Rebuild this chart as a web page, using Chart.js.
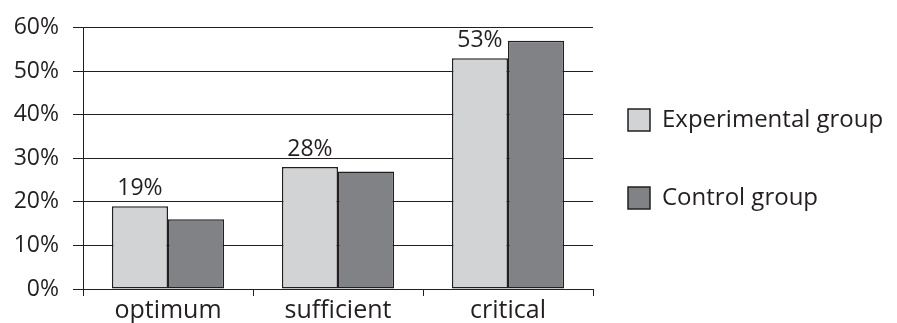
<!DOCTYPE html>
<html>
<head>
<meta charset="utf-8">
<script src="https://cdn.jsdelivr.net/npm/chart.js@4/dist/chart.umd.min.js"></script>
<style>
  html, body { margin: 0; padding: 0; background: #ffffff; }
  #wrap { width: 897px; height: 323px; position: relative; }
</style>
</head>
<body>
<div id="wrap"><canvas id="chart"></canvas></div>
<script>
// Share of pupils per level, in percent
const categories = ['optimum', 'sufficient', 'critical'];
const experimental = [19, 28, 53];
const control = [16, 27, 57];
const seriesNames = ['Experimental group', 'Control group'];
const yTicks = [0, 10, 20, 30, 40, 50, 60];

const ink = '#231f20';
const lightFill = '#d1d3d4';
const darkFill = '#808285';
const fontFamily = '"Open Sans", "Noto Sans", sans-serif';

// Legend placement: gap from the plot, row spacing and width of its column
const legendGap = 35;
const legendRowPadding = 54;
const legendWidth = 304;
const legendShiftY = -14;

// Keeps the legend column at a fixed width and nudges it beside the plot
const legendLayout = {
  id: 'legendLayout',
  beforeInit(chart) {
    const legend = chart.legend;
    const fit = legend.fit.bind(legend);
    legend.fit = function () {
      fit();
      this.width = legendWidth;
    };
  },
  afterLayout(chart) {
    const lg = chart.legend;
    const dx = lg.options.labels.padding - legendGap;
    lg.left -= dx;
    lg.width += dx;
    lg.top += legendShiftY;
    lg.bottom += legendShiftY;
  }
};

// Percent labels above the experimental-group bars
const valueLabels = {
  id: 'valueLabels',
  afterDatasetsDraw(chart) {
    const ctx = chart.ctx;
    const meta = chart.getDatasetMeta(0);
    ctx.save();
    ctx.font = '23px ' + fontFamily;
    ctx.fillStyle = ink;
    ctx.textAlign = 'center';
    ctx.textBaseline = 'alphabetic';
    meta.data.forEach((bar, i) => {
      ctx.fillText(experimental[i] + '%', bar.x, bar.y - 11);
    });
    ctx.restore();
  }
};

new Chart(document.getElementById('chart'), {
  type: 'bar',
  data: {
    labels: categories,
    datasets: [
      {
        label: seriesNames[0],
        data: experimental,
        backgroundColor: lightFill,
        borderColor: ink,
        borderWidth: 1.5,
        borderSkipped: false,
        categoryPercentage: 0.66,
        barPercentage: 1.0
      },
      {
        label: seriesNames[1],
        data: control,
        backgroundColor: darkFill,
        borderColor: ink,
        borderWidth: 1.5,
        borderSkipped: false,
        categoryPercentage: 0.66,
        barPercentage: 1.0
      }
    ]
  },
  options: {
    responsive: true,
    maintainAspectRatio: false,
    animation: false,
    layout: { padding: { top: 23, right: 0, bottom: 0, left: 0 } },
    plugins: {
      tooltip: { enabled: false },
      legend: {
        position: 'right',
        labels: {
          boxWidth: 22,
          boxHeight: 22,
          padding: legendRowPadding,
          color: ink,
          font: { family: fontFamily, size: 24 }
        }
      }
    },
    scales: {
      x: {
        offset: true,
        grid: {
          display: true,
          offset: true,
          drawOnChartArea: false,
          drawTicks: true,
          tickLength: 7,
          color: ink,
          lineWidth: 1
        },
        border: { display: true, color: ink, width: 1 },
        ticks: {
          color: ink,
          padding: 0,
          font: { family: fontFamily, size: 25 }
        },
        afterFit(scale) { scale.height = 34; }
      },
      y: {
        min: yTicks[0],
        max: yTicks[yTicks.length - 1],
        afterBuildTicks(scale) {
          scale.ticks = yTicks.map(v => ({ value: v }));
        },
        grid: {
          color: ink,
          lineWidth: 1,
          drawTicks: true,
          tickLength: 10
        },
        border: { display: true, color: ink, width: 1 },
        ticks: {
          color: ink,
          padding: 14,
          font: { family: fontFamily, size: 23 },
          callback: v => v + '%'
        },
        afterFit(scale) { scale.width = 83; }
      }
    }
  },
  plugins: [legendLayout, valueLabels]
});
</script>
</body>
</html>
